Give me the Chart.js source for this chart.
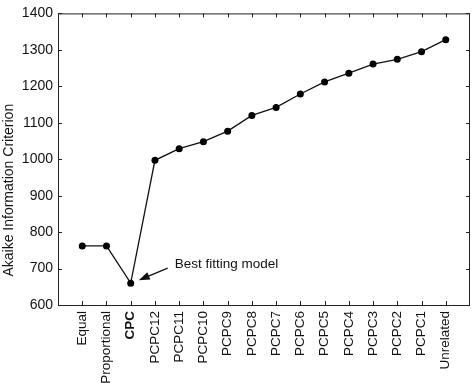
<!DOCTYPE html>
<html>
<head>
<meta charset="utf-8">
<script src="https://cdn.jsdelivr.net/npm/chart.js@4"></script>
<style>
html,body{margin:0;padding:0;background:#fff;}
#wrap{width:474px;height:383px;}
</style>
</head>
<body>
<div id="wrap"><canvas id="c" width="474" height="383"></canvas></div>
<script>
const categories = ['Equal','Proportional','CPC','PCPC12','PCPC11','PCPC10','PCPC9','PCPC8','PCPC7','PCPC6','PCPC5','PCPC4','PCPC3','PCPC2','PCPC1','Unrelated'];
const aicValues = [762, 762, 660, 997, 1029, 1048, 1077, 1120, 1142, 1179, 1212, 1236, 1261, 1274, 1295, 1328];
const yTicks = [600, 700, 800, 900, 1000, 1100, 1200, 1300, 1400];
const bestIndex = 2;
const annotationText = 'Best fitting model';
const yTitle = 'Akaike Information Criterion';

const points = aicValues.map((v, i) => ({x: i, y: v}));
const FONT = "'Liberation Sans', Arial, sans-serif";

const framePlugin = {
  id: 'frame',
  afterDatasetsDraw(chart) {
    const {ctx, chartArea: a, scales: {x, y}} = chart;
    ctx.save();
    ctx.strokeStyle = '#222';
    ctx.lineWidth = 1;
    ctx.strokeRect(a.left + 0.5, a.top + 0.5, a.right - a.left - 1, a.bottom - a.top);
    const L = 4;
    ctx.beginPath();
    yTicks.forEach(v => {
      const py = Math.round(y.getPixelForValue(v)) + 0.5;
      ctx.moveTo(a.left, py); ctx.lineTo(a.left + L, py);
      ctx.moveTo(a.right, py); ctx.lineTo(a.right - L, py);
    });
    categories.forEach((c, i) => {
      const px = Math.round(x.getPixelForValue(i)) + 0.5;
      ctx.moveTo(px, a.bottom); ctx.lineTo(px, a.bottom - L);
      ctx.moveTo(px, a.top); ctx.lineTo(px, a.top + L);
    });
    ctx.stroke();

    // y-axis title (placed lower than centre, as in the reference)
    ctx.save();
    ctx.fillStyle = '#111';
    ctx.font = '14px ' + FONT;
    ctx.textAlign = 'center';
    ctx.textBaseline = 'middle';
    ctx.translate(9, y.getPixelForValue(915));
    ctx.rotate(-Math.PI / 2);
    ctx.fillText(yTitle, 0, 0);
    ctx.restore();

    // annotation
    const bx = x.getPixelForValue(bestIndex);
    const by = y.getPixelForValue(aicValues[bestIndex]);
    ctx.fillStyle = '#111';
    ctx.font = '13.5px ' + FONT;
    ctx.textAlign = 'left';
    ctx.textBaseline = 'middle';
    ctx.fillText(annotationText, bx + 44, by - 19);
    const sx = bx + 37, sy = by - 15, ex = bx + 8, ey = by - 3;
    ctx.strokeStyle = '#111';
    ctx.lineWidth = 1.2;
    ctx.beginPath(); ctx.moveTo(sx, sy); ctx.lineTo(ex + 8, ey - 3.3); ctx.stroke();
    const ang = Math.atan2(ey - sy, ex - sx);
    const hl = 11, hw = 4;
    ctx.beginPath();
    ctx.moveTo(ex, ey);
    ctx.lineTo(ex - hl * Math.cos(ang) + hw * Math.sin(ang), ey - hl * Math.sin(ang) - hw * Math.cos(ang));
    ctx.lineTo(ex - hl * Math.cos(ang) - hw * Math.sin(ang), ey - hl * Math.sin(ang) + hw * Math.cos(ang));
    ctx.closePath();
    ctx.fill();
    ctx.restore();
  }
};

new Chart(document.getElementById('c'), {
  type: 'line',
  data: {
    datasets: [{
      data: points,
      borderColor: '#111',
      backgroundColor: '#111',
      borderWidth: 1.3,
      pointRadius: 3.5,
      pointBackgroundColor: '#000',
      pointBorderWidth: 0,
      tension: 0,
      fill: false
    }]
  },
  options: {
    responsive: false,
    animation: false,
    layout: {padding: {top: 5, right: 2, left: 0, bottom: 0}},
    plugins: {legend: {display: false}, tooltip: {enabled: false}},
    scales: {
      x: {
        type: 'linear',
        min: -1, max: 16,
        grid: {display: false, drawTicks: false},
        border: {display: false},
        afterBuildTicks(scale) { scale.ticks = categories.map((c, i) => ({value: i})); },
        afterFit(scale) { scale.height = 78; },
        ticks: {
          autoSkip: false,
          minRotation: 90, maxRotation: 90,
          padding: 6,
          color: '#111',
          font: (ctx) => ({family: FONT, size: 13.5, weight: (ctx.tick && ctx.tick.value === bestIndex) ? 'bold' : 'normal'}),
          callback: (v) => categories[v] !== undefined ? categories[v] : ''
        }
      },
      y: {
        min: 600, max: 1400,
        grid: {display: false, drawTicks: false},
        border: {display: false},
        afterBuildTicks(scale) { scale.ticks = yTicks.map(v => ({value: v})); },
        afterFit(scale) { scale.width = 58; },
        title: {display: false},
        ticks: {padding: 5, color: '#111', font: {family: FONT, size: 14}, callback: (v) => String(v)}
      }
    }
  },
  plugins: [framePlugin]
});
</script>
</body>
</html>
